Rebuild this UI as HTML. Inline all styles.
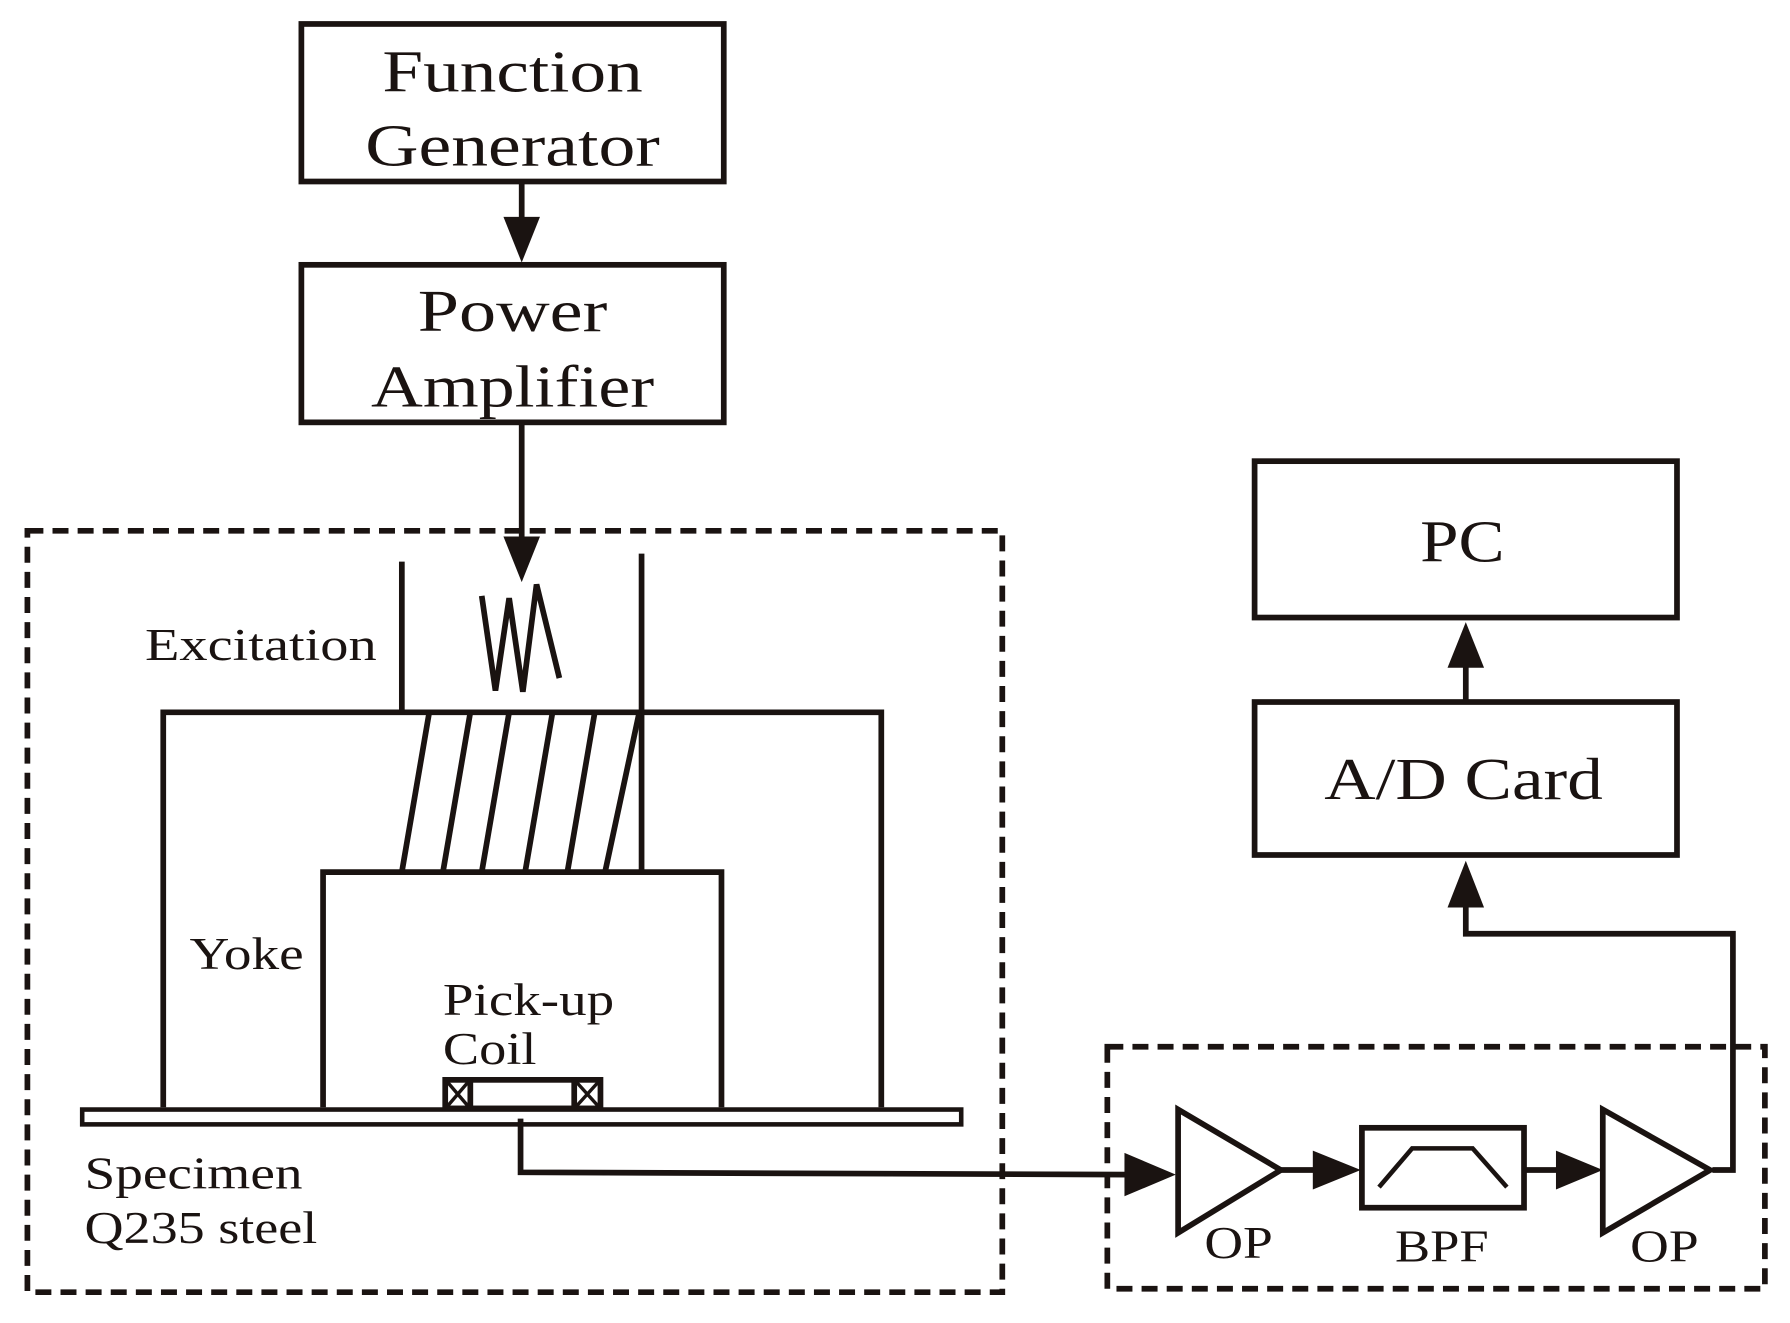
<!DOCTYPE html>
<html><head><style>html,body{margin:0;padding:0;background:#fff}svg{display:block}</style></head>
<body>
<svg width="1790" height="1323" viewBox="0 0 1568 1159" preserveAspectRatio="none" xmlns="http://www.w3.org/2000/svg">
<g fill="none" stroke="#1a1311" stroke-width="5">
<rect x="264" y="21" width="370" height="138"/>
<rect x="264" y="232" width="370" height="138"/>
<rect x="1099" y="404" width="370" height="137"/>
<rect x="1099" y="615" width="370" height="134"/>
<rect x="24" y="465" width="854" height="667" stroke-dasharray="14,8"/>
<rect x="970" y="917" width="576" height="212" stroke-dasharray="14,8"/>
<line x1="457" y1="159" x2="457" y2="195"/>
<line x1="457" y1="370" x2="457" y2="470"/>
<line x1="1284" y1="615" x2="1284" y2="580"/>
<polyline points="456,980 456,1027 990,1029"/>
<polyline points="1500,1025 1518,1025 1518,818 1284,818 1284,790"/>
<polyline points="1122,1025 1155,1025"/>
<polyline points="1335,1025 1370,1025"/>
<polyline points="143,970 143,624 772,624 772,970"/>
<polyline points="283,970 283,764 632,764 632,970"/>
<rect x="72" y="972" width="770" height="13" stroke-width="4"/>
<line x1="352" y1="492" x2="352" y2="624"/>
<line x1="562" y1="485" x2="562" y2="764"/>
<line x1="376" y1="624" x2="352" y2="764"/>
<line x1="412" y1="624" x2="388" y2="764"/>
<line x1="446" y1="624" x2="422" y2="764"/>
<line x1="484" y1="624" x2="460" y2="764"/>
<line x1="521" y1="624" x2="497" y2="764"/>
<line x1="560" y1="624" x2="530" y2="764"/>
<polyline points="422,522 434,605 446,524 458,606 470,512 490,594"/>
<rect x="390" y="946" width="136" height="25"/>
<line x1="412" y1="946" x2="412" y2="971"/><line x1="503" y1="946" x2="503" y2="971"/>
<path d="M392,948 L410,969 M410,948 L392,969 M505,948 L524,969 M524,948 L505,969" stroke-width="3"/>
<polygon points="1032,972 1032,1080 1122,1025"/>
<polygon points="1404,972 1404,1080 1498,1025"/>
<rect x="1193" y="988" width="142" height="70"/>
<polyline points="1208,1040 1237,1006 1290,1006 1320,1040" stroke-width="4"/>
</g>
<g fill="#1a1311">
<polygon points="441,190 473,190 457,230"/>
<polygon points="441,470 473,470 457,510"/>
<polygon points="1268,585 1300,585 1284,545"/>
<polygon points="1268,795 1300,795 1284,754"/>
<polygon points="985,1010 985,1048 1030,1029"/>
<polygon points="1150,1008 1150,1042 1192,1025"/>
<polygon points="1363,1008 1363,1042 1404,1025"/>
</g>
<g font-family="Liberation Serif, serif" fill="#1a1311" font-size="52" lengthAdjust="spacingAndGlyphs">
<text x="335" y="80" textLength="228" lengthAdjust="spacingAndGlyphs">Function</text>
<text x="320" y="145" textLength="258" lengthAdjust="spacingAndGlyphs">Generator</text>
<text x="366" y="290" textLength="166" lengthAdjust="spacingAndGlyphs">Power</text>
<text x="325" y="356" textLength="248" lengthAdjust="spacingAndGlyphs">Amplifier</text>
<text x="1244" y="492" textLength="74" lengthAdjust="spacingAndGlyphs">PC</text>
<text x="1160" y="700" textLength="244" lengthAdjust="spacingAndGlyphs">A/D Card</text>
</g>
<g font-family="Liberation Serif, serif" fill="#1a1311" font-size="40">
<text x="1055" y="1102" textLength="60" lengthAdjust="spacingAndGlyphs">OP</text>
<text x="1222" y="1105" textLength="82" lengthAdjust="spacingAndGlyphs">BPF</text>
<text x="1428" y="1105" textLength="60" lengthAdjust="spacingAndGlyphs">OP</text>
<text x="127" y="578" textLength="203" lengthAdjust="spacingAndGlyphs">Excitation</text>
<text x="166" y="849" textLength="100" lengthAdjust="spacingAndGlyphs">Yoke</text>
<text x="388" y="889" textLength="150" lengthAdjust="spacingAndGlyphs">Pick-up</text>
<text x="388" y="932" textLength="82" lengthAdjust="spacingAndGlyphs">Coil</text>
<text x="74" y="1041" textLength="191" lengthAdjust="spacingAndGlyphs">Specimen</text>
<text x="74" y="1089" textLength="204" lengthAdjust="spacingAndGlyphs">Q235 steel</text>
</g>
</svg>
</body></html>
